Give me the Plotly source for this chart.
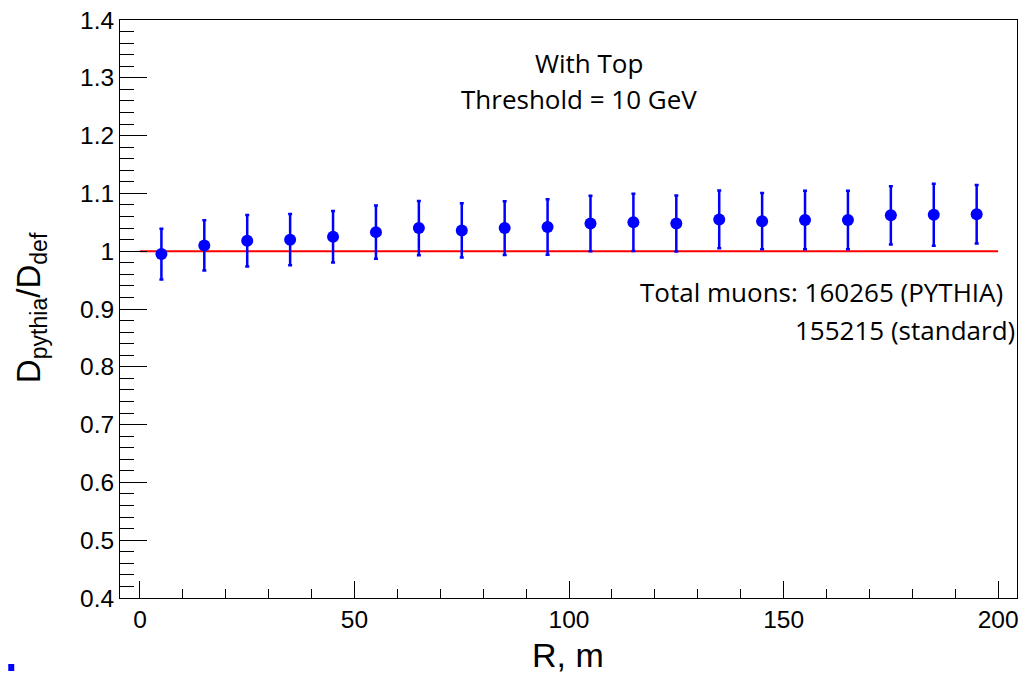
import plotly.graph_objects as go

# ---- data ----
r_values = [5, 15, 25, 35, 45, 55, 65, 75, 85, 95,
            105, 115, 125, 135, 145, 155, 165, 175, 185, 195]
ratio = [0.995, 1.010, 1.018, 1.020, 1.025, 1.033, 1.040, 1.036, 1.040, 1.042,
         1.048, 1.050, 1.048, 1.055, 1.052, 1.054, 1.054, 1.062, 1.063, 1.064]
ratio_err = [0.044, 0.0435, 0.0445, 0.0445, 0.0445, 0.046, 0.047, 0.047, 0.0465, 0.048,
             0.048, 0.0495, 0.0485, 0.050, 0.0485, 0.0505, 0.0505, 0.0505, 0.0535, 0.0505]
ref_x = [0, 200]
ref_y = [1.0, 1.0]

# ---- layout geometry (pixels) ----
W, H = 1025, 673
L, R, T, B = 120, 6, 20, 75
PW, PH = W - L - R, H - T - B


def px(x):
    return (x - L) / PW


def py(y):
    return 1 - (y - T) / PH


fig = go.Figure()

fig.add_trace(go.Scatter(
    x=ref_x, y=ref_y, mode="lines",
    line=dict(color="#ff0000", width=2),
    hoverinfo="skip", showlegend=False,
))

fig.add_trace(go.Scatter(
    x=r_values, y=ratio, mode="markers",
    marker=dict(color="#0000ff", size=12, symbol="circle"),
    error_y=dict(type="data", array=ratio_err, visible=True,
                 color="#0000ff", thickness=2.5, width=2),
    showlegend=False,
))

tick_font = dict(family="Liberation Sans, Arial, sans-serif", size=24.5, color="black")
text_font = dict(family="Open Sans, Noto Sans, sans-serif", size=26, color="black")

fig.update_layout(
    width=W, height=H,
    margin=dict(l=L, r=R, t=T, b=B, pad=0),
    paper_bgcolor="white", plot_bgcolor="white",
    showlegend=False,
    xaxis=dict(
        range=[-4.65, 204.4], showgrid=False, zeroline=False,
        showline=True, linecolor="black", linewidth=1, mirror=True,
        ticks="inside", ticklen=17, tickcolor="black", tickwidth=1,
        tick0=0, dtick=50, tickfont=tick_font,
        minor=dict(ticks="inside", ticklen=9, dtick=10, tick0=0,
                   tickcolor="black", tickwidth=1, showgrid=False),
    ),
    yaxis=dict(
        range=[0.4, 1.4], showgrid=False, zeroline=False,
        showline=True, linecolor="black", linewidth=1, mirror=True,
        ticks="inside", ticklen=27, tickcolor="black", tickwidth=1,
        tickfont=tick_font,
        tickvals=[0.4, 0.5, 0.6, 0.7, 0.8, 0.9, 1.0, 1.1, 1.2, 1.3, 1.4],
        ticktext=["0.4", "0.5", "0.6", "0.7", "0.8", "0.9", "1", "1.1", "1.2", "1.3", "1.4"],
        minor=dict(ticks="inside", ticklen=14, dtick=0.02, tick0=0.4,
                   tickcolor="black", tickwidth=1, showgrid=False),
    ),
    annotations=[
        dict(text="With Top", xref="paper", yref="paper",
             x=px(590), y=py(63), xanchor="center", yanchor="middle",
             showarrow=False, font=text_font),
        dict(text="Threshold = 10 GeV", xref="paper", yref="paper",
             x=px(580), y=py(99), xanchor="center", yanchor="middle",
             showarrow=False, font=text_font),
        dict(text="Total muons: 160265 (PYTHIA)", xref="paper", yref="paper",
             x=px(1007), y=py(292), xanchor="right", yanchor="middle",
             showarrow=False, font=text_font),
        dict(text="155215 (standard)", xref="paper", yref="paper",
             x=px(1019), y=py(330), xanchor="right", yanchor="middle",
             showarrow=False, font=text_font),
        dict(text="R, m", xref="paper", yref="paper",
             x=px(569), y=py(655), xanchor="center", yanchor="middle",
             showarrow=False,
             font=dict(family="Liberation Sans, Arial, sans-serif", size=34, color="black")),
        dict(text="D<sub>pythia</sub>/D<sub>def</sub>", xref="paper", yref="paper",
             x=px(31), y=py(308), xanchor="center", yanchor="middle",
             textangle=-90, showarrow=False,
             font=dict(family="Liberation Sans, Arial, sans-serif", size=33, color="black")),
    ],
    shapes=[
        dict(type="rect", xref="paper", yref="paper",
             x0=px(8), x1=px(14), y0=py(671), y1=py(664),
             fillcolor="#0000ff", line=dict(width=0)),
    ],
)

fig.write_html("out.html")
